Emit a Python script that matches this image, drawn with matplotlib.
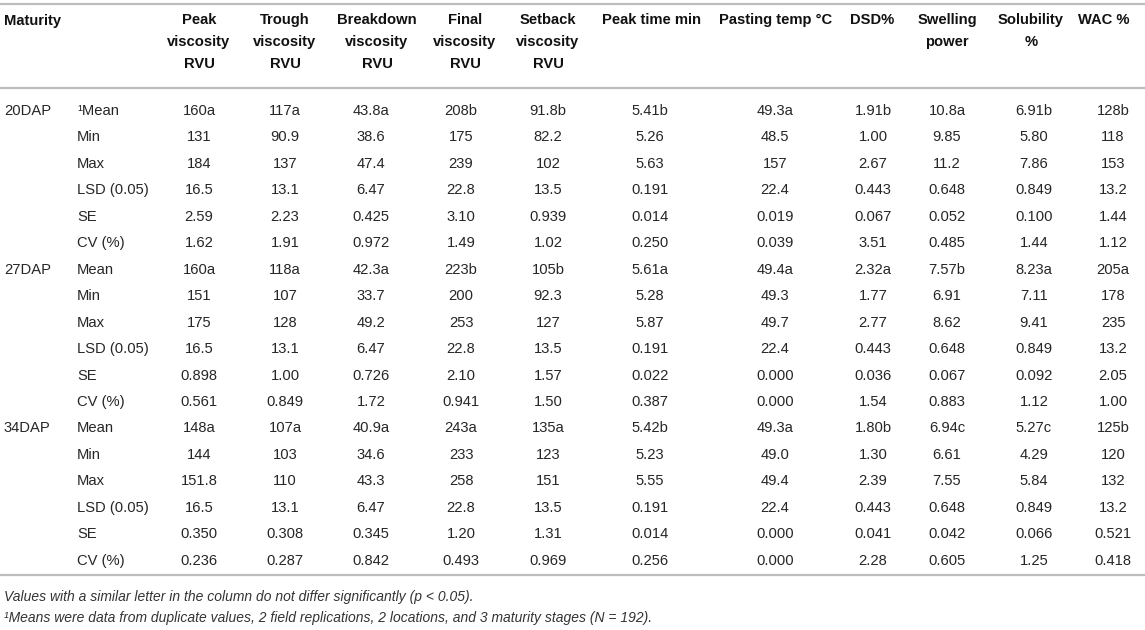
import matplotlib.pyplot as plt

plt.rcParams['font.family'] = ['Liberation Sans', 'DejaVu Sans']

headers = ["Peak\nviscosity\nRVU", "Trough\nviscosity\nRVU", "Breakdown\nviscosity\nRVU",
           "Final\nviscosity\nRVU", "Setback\nviscosity\nRVU", "Peak time min",
           "Pasting temp °C", "DSD%", "Swelling\npower", "Solubility\n%", "WAC %"]
stages = ["20DAP", "27DAP", "34DAP"]
stats = ["Mean", "Min", "Max", "LSD (0.05)", "SE", "CV (%)"]

peak_visc = ["160a", "131", "184", "16.5", "2.59", "1.62",
             "160a", "151", "175", "16.5", "0.898", "0.561",
             "148a", "144", "151.8", "16.5", "0.350", "0.236"]
trough_visc = ["117a", "90.9", "137", "13.1", "2.23", "1.91",
               "118a", "107", "128", "13.1", "1.00", "0.849",
               "107a", "103", "110", "13.1", "0.308", "0.287"]
breakdown_visc = ["43.8a", "38.6", "47.4", "6.47", "0.425", "0.972",
                  "42.3a", "33.7", "49.2", "6.47", "0.726", "1.72",
                  "40.9a", "34.6", "43.3", "6.47", "0.345", "0.842"]
final_visc = ["208b", "175", "239", "22.8", "3.10", "1.49",
              "223b", "200", "253", "22.8", "2.10", "0.941",
              "243a", "233", "258", "22.8", "1.20", "0.493"]
setback_visc = ["91.8b", "82.2", "102", "13.5", "0.939", "1.02",
                "105b", "92.3", "127", "13.5", "1.57", "1.50",
                "135a", "123", "151", "13.5", "1.31", "0.969"]
peak_time = ["5.41b", "5.26", "5.63", "0.191", "0.014", "0.250",
             "5.61a", "5.28", "5.87", "0.191", "0.022", "0.387",
             "5.42b", "5.23", "5.55", "0.191", "0.014", "0.256"]
pasting_temp = ["49.3a", "48.5", "157", "22.4", "0.019", "0.039",
                "49.4a", "49.3", "49.7", "22.4", "0.000", "0.000",
                "49.3a", "49.0", "49.4", "22.4", "0.000", "0.000"]
dsd = ["1.91b", "1.00", "2.67", "0.443", "0.067", "3.51",
       "2.32a", "1.77", "2.77", "0.443", "0.036", "1.54",
       "1.80b", "1.30", "2.39", "0.443", "0.041", "2.28"]
swelling = ["10.8a", "9.85", "11.2", "0.648", "0.052", "0.485",
            "7.57b", "6.91", "8.62", "0.648", "0.067", "0.883",
            "6.94c", "6.61", "7.55", "0.648", "0.042", "0.605"]
solubility = ["6.91b", "5.80", "7.86", "0.849", "0.100", "1.44",
              "8.23a", "7.11", "9.41", "0.849", "0.092", "1.12",
              "5.27c", "4.29", "5.84", "0.849", "0.066", "1.25"]
wac = ["128b", "118", "153", "13.2", "1.44", "1.12",
       "205a", "178", "235", "13.2", "2.05", "1.00",
       "125b", "120", "132", "13.2", "0.521", "0.418"]

columns = [peak_visc, trough_visc, breakdown_visc, final_visc, setback_visc,
           peak_time, pasting_temp, dsd, swelling, solubility, wac]

notes = ["Values with a similar letter in the column do not differ significantly (p < 0.05).",
         "¹Means were data from duplicate values, 2 field replications, 2 locations, and 3 maturity stages (N = 192)."]

# layout in pixel units
W, H = 1145, 630
col_x = [199, 285, 371, 461, 548, 650, 775, 873, 947, 1034, 1113]
head_x = [199, 285, 377, 465, 548, 651, 776, 872, 947, 1031, 1104]
row0, row_h = 111, 26.45
fs = 10.6
txt = '#262626'
rule = '#bdbdbd'

fig = plt.figure(figsize=(W / 100, H / 100), dpi=100)
ax = fig.add_axes([0, 0, 1, 1])
ax.set_xlim(0, W)
ax.set_ylim(H, 0)
ax.axis('off')

# rules
for y in [4, 88, 575]:
    ax.plot([0, W], [y, y], color=rule, lw=1.6, solid_capstyle='butt')

# header
ax.text(4, 21, "Maturity", ha='left', va='center', fontsize=fs, fontweight='bold', color='#111111')
for x, h in zip(head_x, headers):
    ax.text(x, 13, h, ha='center', va='top', fontsize=fs, fontweight='bold',
            color='#111111', linespacing=1.72)

# body
for i in range(len(stages) * len(stats)):
    y = row0 + i * row_h
    if i % len(stats) == 0:
        ax.text(4, y, stages[i // len(stats)], ha='left', va='center', fontsize=fs, color=txt)
    label = stats[i % len(stats)]
    if i == 0:
        label = "¹" + label
    ax.text(77, y, label, ha='left', va='center', fontsize=fs, color=txt)
    for x, col in zip(col_x, columns):
        ax.text(x, y, col[i], ha='center', va='center', fontsize=fs, color=txt)

# footnotes
ax.text(4, 597, notes[0], ha='left', va='center', fontsize=10, style='italic', color='#333333')
ax.text(4, 618, notes[1], ha='left', va='center', fontsize=10, style='italic', color='#333333')

fig.savefig('out.png', dpi=100)
